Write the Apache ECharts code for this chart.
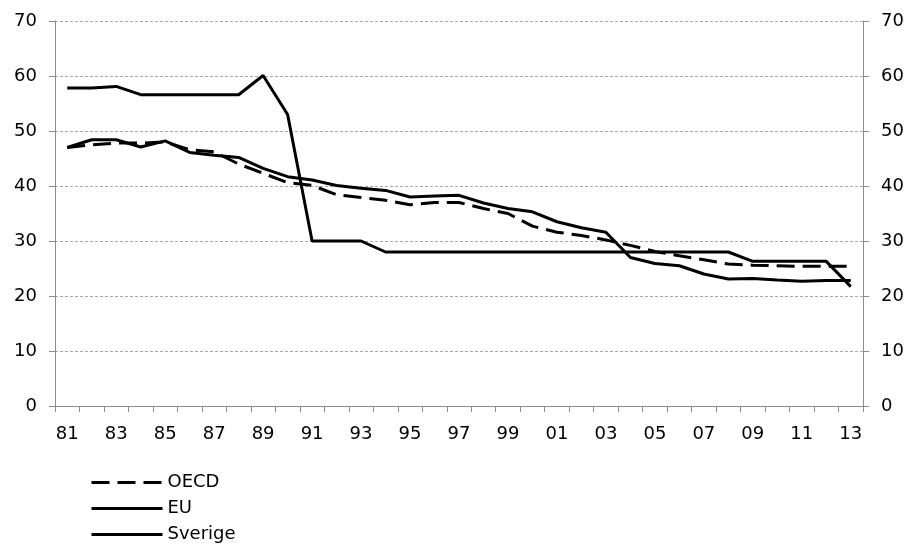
<!DOCTYPE html>
<html><head><meta charset="utf-8">
<script src="https://cdn.jsdelivr.net/npm/echarts@6/dist/echarts.min.js"></script>
<style>html,body{margin:0;padding:0;background:#fff}#c{width:912px;height:549px}</style>
</head><body><div id="c"></div>
<script>
const years = ['81','82','83','84','85','86','87','88','89','90','91','92','93','94','95','96','97','98','99','00','01','02','03','04','05','06','07','08','09','10','11','12','13'];
const oecd = [47.0,47.5,47.8,47.8,48.0,46.6,46.2,44.0,42.3,40.6,40.1,38.4,37.9,37.4,36.6,37.0,37.0,35.9,35.0,32.7,31.6,31.0,30.2,29.2,28.1,27.3,26.6,25.8,25.6,25.5,25.4,25.4,25.4];
const eu = [47.0,48.4,48.4,47.1,48.2,46.1,45.6,45.2,43.2,41.7,41.1,40.1,39.6,39.2,38.0,38.2,38.3,36.9,35.9,35.3,33.5,32.4,31.6,27.0,25.9,25.5,24.0,23.1,23.2,22.9,22.7,22.8,22.8];
const sverige = [57.8,57.8,58.1,56.6,56.6,56.6,56.6,56.6,60.1,53.0,30.0,30.0,30.0,28.0,28.0,28.0,28.0,28.0,28.0,28.0,28.0,28.0,28.0,28.0,28.0,28.0,28.0,28.0,26.3,26.3,26.3,26.3,21.7];
const seriesNames = ['OECD','EU','Sverige'];

const font = 'DejaVu Sans';
const axisGrey = '#8c8c8c';
const yAxisCommon = {
  type: 'value', min: 0, max: 70, interval: 10,
  axisLine: {show: true, lineStyle: {color: axisGrey, width: 1}},
  axisTick: {show: true, length: 6, lineStyle: {color: axisGrey}},
  axisLabel: {color: '#000', fontFamily: font, fontSize: 18, margin: 18},
  splitLine: {show: true, lineStyle: {color: '#a6a6a6', type: [3, 2], width: 1}}
};
const chart = echarts.init(document.getElementById('c'), null, {renderer: 'canvas'});
chart.setOption({
  animation: false,
  backgroundColor: '#fff',
  grid: {left: 55, right: 49, top: 21, bottom: 143, containLabel: false},
  xAxis: {
    type: 'category', data: years, boundaryGap: true,
    axisLine: {lineStyle: {color: axisGrey}},
    axisTick: {show: true, length: 6, alignWithLabel: false, interval: 0, lineStyle: {color: axisGrey}},
    axisLabel: {interval: 1, color: '#000', fontFamily: font, fontSize: 18, margin: 19}
  },
  yAxis: [
    Object.assign({position: 'left'}, yAxisCommon),
    Object.assign({position: 'right'}, yAxisCommon, {splitLine: {show: false}})
  ],
  legend: {
    orient: 'vertical', left: 90, top: 472, itemWidth: 71, itemHeight: 10, itemGap: 5,
    padding: 0,
    itemStyle: {opacity: 0},
    lineStyle: {width: 3},
    textStyle: {fontFamily: font, fontSize: 18, lineHeight: 21, color: '#000'},
    data: seriesNames
  },
  series: [
    {name: seriesNames[0], type: 'line', data: oecd, symbol: 'none', lineStyle: {color: '#000', width: 3, type: [18, 8]}, itemStyle: {color: '#000'}},
    {name: seriesNames[1], type: 'line', data: eu, symbol: 'none', lineStyle: {color: '#000', width: 3}, itemStyle: {color: '#000'}},
    {name: seriesNames[2], type: 'line', data: sverige, symbol: 'none', lineStyle: {color: '#000', width: 3}, itemStyle: {color: '#000'}}
  ]
});
</script></body></html>
